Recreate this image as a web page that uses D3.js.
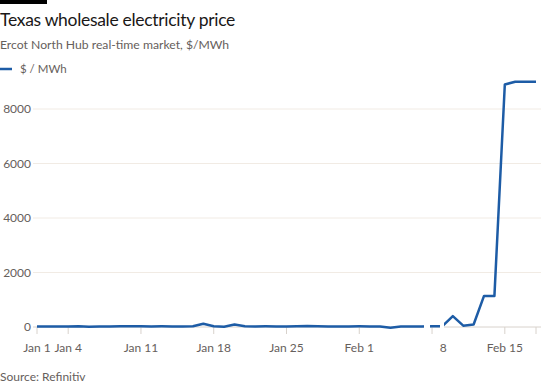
<!DOCTYPE html>
<html>
<head>
<meta charset="utf-8">
<script src="https://cdn.jsdelivr.net/npm/d3@7"></script>
<style>
    body { margin: 0; background: #fff; }
    svg { font-family: Lato, "Noto Sans", sans-serif; }
</style>
</head>
<body>
<svg id="chart" width="555" height="384"></svg>
<script>
// daily prices, Jan 1 - Feb 18 2021
const startDate = "2021-01-01";
const prices = [
    20, 20, 18, 15, 25, 10, 18, 22, 25, 30,
    25, 22, 24, 20, 22, 25, 120, 30, 10, 90,
    30, 22, 24, 20, 22, 28, 35, 25, 20, 18,
    22, 25, 22, 20, -30, 15, 20, 22, 25, 30,
    400, 50, 90, 1140, 1140, 8900, 9000, 9000, 9000
];
const yTicks = [0, 2000, 4000, 6000, 8000];
const xTickDates = ["2021-01-01", "2021-01-04", "2021-01-11", "2021-01-18",
    "2021-01-25", "2021-02-01", "2021-02-08", "2021-02-15", "2021-02-18"];
const xTickLabels = ["Jan 1", "Jan 4", "Jan 11", "Jan 18", "Jan 25", "Feb 1", "Feb 8", "Feb 15", ""];

const parse = d3.utcParse("%Y-%m-%d");
const t0 = parse(startDate);
const data = prices.map((v, i) => ({ date: d3.utcDay.offset(t0, i), value: v }));

const svg = d3.select("#chart");
const blue = "#1d5ca6";

const x = d3.scaleUtc()
    .domain([t0, d3.utcDay.offset(t0, prices.length - 1)])
    .range([37, 536]);
const y = d3.scaleLinear().domain([0, 8000]).range([327, 109]);

// header
svg.append("rect").attr("x", 0).attr("y", 0).attr("width", 47).attr("height", 4).attr("fill", "#000");
svg.append("text").attr("x", 0).attr("y", 26)
    .attr("font-size", 17.5).attr("letter-spacing", -0.3).attr("fill", "#1a1817")
    .text("Texas wholesale electricity price");
svg.append("text").attr("x", 0).attr("y", 49)
    .attr("font-size", 12.2).attr("fill", "#66605c")
    .text("Ercot North Hub real-time market, $/MWh");
svg.append("line").attr("x1", 0).attr("x2", 12).attr("y1", 69).attr("y2", 69)
    .attr("stroke", blue).attr("stroke-width", 2.5);
svg.append("text").attr("x", 20).attr("y", 73)
    .attr("font-size", 11.5).attr("fill", "#66605c")
    .text("$ / MWh");

// y grid + labels
const yg = svg.append("g");
yg.selectAll("line").data(yTicks).join("line")
    .attr("x1", 33).attr("x2", 541)
    .attr("y1", d => y(d)).attr("y2", d => y(d))
    .attr("stroke", d => d === 0 ? "#d8d2cc" : "#f1ebe4")
    .attr("stroke-width", 1);
yg.selectAll("text").data(yTicks).join("text")
    .attr("x", 31).attr("y", d => y(d) + 4)
    .attr("text-anchor", "end")
    .attr("font-size", 12).attr("fill", "#66605c")
    .text(d => d);

// x ticks
const xg = svg.append("g");
const xTicks = xTickDates.map((d, i) => ({ date: parse(d), label: xTickLabels[i] }));
xg.selectAll("line").data(xTicks).join("line")
    .attr("x1", d => x(d.date)).attr("x2", d => x(d.date))
    .attr("y1", 327).attr("y2", 334)
    .attr("stroke", "#d8d2cc");
xg.selectAll("text").data(xTicks).join("text")
    .attr("x", d => x(d.date)).attr("y", 352)
    .attr("text-anchor", "middle")
    .attr("font-size", 12).attr("fill", "#66605c")
    .text(d => d.label);

// price line
const line = d3.line().x(d => x(d.date)).y(d => y(d.value));
svg.append("path").datum(data)
    .attr("d", line)
    .attr("fill", "none")
    .attr("stroke", blue)
    .attr("stroke-width", 2.5)
    .attr("stroke-linejoin", "round");

// white patch seen in the original over the Feb 8 area
svg.append("rect").attr("x", 424).attr("y", 321).attr("width", 6).attr("height", 12).attr("fill", "#fff");
svg.append("rect").attr("x", 417).attr("y", 338).attr("width", 20).attr("height", 18).attr("fill", "#fff");
svg.append("rect").attr("x", 440).attr("y", 321).attr("width", 4).attr("height", 9).attr("fill", "#fff");

svg.append("text").attr("x", 0).attr("y", 381)
    .attr("font-size", 12).attr("fill", "#66605c")
    .text("Source: Refinitiv");
</script>
</body>
</html>
